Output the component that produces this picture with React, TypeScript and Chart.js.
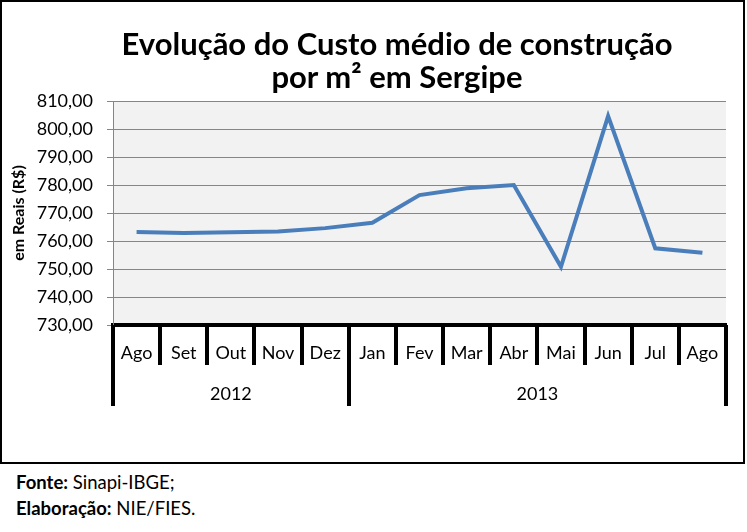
import React, { useEffect, useRef } from "react";
import { Chart, registerables } from "chart.js";

Chart.register(...registerables);

const months = ["Ago", "Set", "Out", "Nov", "Dez", "Jan", "Fev", "Mar", "Abr", "Mai", "Jun", "Jul", "Ago"];
const years = ["2012", "2013"];
const yearSpans = [5, 8];
const costs = [763.2, 762.9, 763.1, 763.4, 764.6, 766.5, 776.4, 778.8, 780.0, 750.8, 804.6, 757.4, 755.8];
const yMin = 730;
const yMax = 810;
const yStep = 10;

const FONT = "Lato, 'Open Sans', sans-serif";

export default function App() {
  const ref = useRef<HTMLCanvasElement | null>(null);

  useEffect(() => {
    if (!ref.current) return;
    const separators = {
      id: "separators",
      afterDraw(chart: any) {
        const { ctx, chartArea, scales } = chart;
        const x = scales.x;
        const n = months.length;
        const w = (chartArea.right - chartArea.left) / n;
        const bottom = chartArea.bottom;
        ctx.save();
        ctx.strokeStyle = "#000";
        ctx.lineWidth = 4;
        const longIdx = new Set<number>([0]);
        let acc = 0;
        yearSpans.forEach((s) => {
          acc += s;
          longIdx.add(acc);
        });
        for (let i = 0; i <= n; i++) {
          const px = Math.round(chartArea.left + i * w);
          const len = longIdx.has(i) ? 81 : 40;
          ctx.beginPath();
          ctx.moveTo(px, bottom);
          ctx.lineTo(px, bottom + len);
          ctx.stroke();
        }
        ctx.fillStyle = "#000";
        ctx.font = `18px ${FONT}`;
        ctx.textAlign = "center";
        ctx.textBaseline = "middle";
        let start = 0;
        years.forEach((yr, k) => {
          const end = start + yearSpans[k];
          const a = x.getPixelForValue(start) - w / 2;
          const b = x.getPixelForValue(end - 1) + w / 2;
          ctx.fillText(yr, (a + b) / 2, bottom + 69);
          start = end;
        });
        ctx.restore();
      },
    };
    const bg = {
      id: "bg",
      beforeDraw(chart: any) {
        const { ctx, chartArea } = chart;
        ctx.save();
        ctx.fillStyle = "#f2f2f2";
        ctx.fillRect(chartArea.left, chartArea.top, chartArea.right - chartArea.left, chartArea.bottom - chartArea.top);
        ctx.restore();
      },
    };
    const chart = new Chart(ref.current, {
      type: "line",
      data: {
        labels: months,
        datasets: [
          {
            data: costs,
            borderColor: "#4a7ebb",
            borderWidth: 4,
            pointRadius: 0,
            tension: 0,
            fill: false,
          },
        ],
      },
      options: {
        animation: false,
        responsive: false,
        maintainAspectRatio: false,
        layout: { padding: { top: 101, right: 21, bottom: 59, left: 0 } },
        plugins: { legend: { display: false }, tooltip: { enabled: false }, title: { display: false } },
        scales: {
          x: {
            offset: true,
            grid: { display: false, drawTicks: false },
            border: { display: true, color: "#000", width: 4 },
            ticks: {
              color: "#000",
              font: { family: FONT, size: 18 },
              padding: 17,
              maxRotation: 0,
              autoSkip: false,
            },
            afterFit(scale: any) {
              scale.height = 80;
            },
          },
          y: {
            min: yMin,
            max: yMax,
            ticks: {
              stepSize: yStep,
              color: "#000",
              font: { family: FONT, size: 18 },
              padding: 14,
              callback: (v: any) => Number(v).toFixed(2).replace(".", ","),
            },
            grid: { color: "#868686", lineWidth: 1, tickLength: 6 },
            border: { color: "#868686", width: 1 },
            title: {
              display: true,
              text: "em Reais (R$)",
              color: "#000",
              font: { family: FONT, size: 16, weight: "bold" },
              padding: { top: 9, bottom: 0 },
            },
            afterFit(scale: any) {
              scale.width = 113;
            },
          },
        },
      },
      plugins: [bg, separators],
    });
    return () => chart.destroy();
  }, []);

  return (
    <div style={{ position: "absolute", left: 0, top: 0, width: 747, height: 532, background: "#fff", fontFamily: FONT }}>
      <div
        style={{
          position: "absolute",
          left: 0,
          top: 0,
          width: 741,
          height: 460,
          border: "2px solid #000",
        }}
      />
      <canvas ref={ref} width={747} height={464} style={{ position: "absolute", left: 0, top: 0 }} />
      <div
        style={{
          position: "absolute",
          left: 0,
          top: 27,
          width: 794,
          textAlign: "center",
          fontWeight: "bold",
          fontSize: 31,
          lineHeight: "33px",
          color: "#000",
        }}
      >
        Evolução do Custo médio de construção
        <br />
        por m² em Sergipe
      </div>
      <div style={{ position: "absolute", left: 16, top: 469, fontSize: 18.5, lineHeight: "26px", color: "#000" }}>
        <div>
          <b>Fonte:</b> Sinapi-IBGE;
        </div>
        <div>
          <b>Elaboração:</b> NIE/FIES.
        </div>
      </div>
    </div>
  );
}
